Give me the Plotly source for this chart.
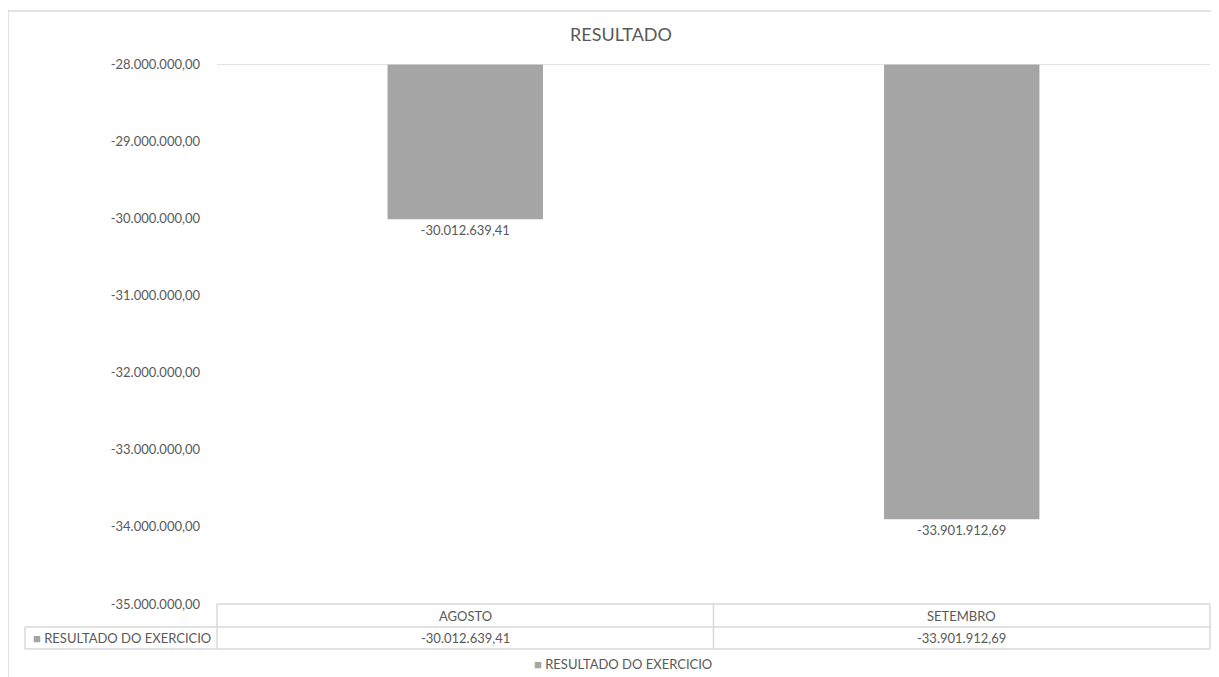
import plotly.graph_objects as go

categories = ["AGOSTO", "SETEMBRO"]
values = [-30012639.41, -33901912.69]
series_name = "RESULTADO DO EXERCICIO"
axis_top = -28000000
axis_bottom = -35000000
tick_vals = [-28000000, -29000000, -30000000, -31000000, -32000000, -33000000, -34000000, -35000000]


def br(v):
    s = f"{abs(v):,.2f}".replace(",", "X").replace(".", ",").replace("X", ".")
    return ("-" if v < 0 else "") + s


FONT = "Lato, Open Sans, Liberation Sans"
TXT = "#595959"
BAR = "#A5A5A5"
GRID = "#D9D9D9"

OFF = 8  # page body margin
W, H = 1219 - 2 * OFF, 677 - OFF
# reference pixel positions of the plot area
PL, PR, PT, PB = 217, 1210, 64, 604
L, R, T, B = PL - OFF, (W + OFF) - PR, PT - OFF, (H + OFF) - PB
pw = W - L - R
ph = H - T - B


def px_x(x):
    return (x - PL) / pw


def px_y(y):
    return (PB - y) / ph


fig = go.Figure()
fig.add_trace(go.Bar(
    x=categories,
    y=[v - axis_top for v in values],
    base=[axis_top] * len(values),
    marker=dict(color=BAR, line=dict(width=0)),
    width=0.313,
    name=series_name,
    text=[br(v) for v in values],
    textposition="outside",
    textfont=dict(color=TXT, size=13, family=FONT),
    cliponaxis=False,
    showlegend=False,
))

fig.update_layout(
    width=W, height=H,
    margin=dict(l=L, r=R, t=T, b=B),
    paper_bgcolor="white",
    plot_bgcolor="white",
    separators=",.",
    font=dict(family=FONT, color=TXT, size=13),
    title=dict(text="RESULTADO", x=px_x(621), xref="paper", xanchor="center",
               y=1 - (35 - OFF) / H, yanchor="middle",
               font=dict(size=18, color=TXT, family=FONT)),
    xaxis=dict(showticklabels=False, showgrid=False, zeroline=False, showline=False,
               range=[-0.5, 1.5], fixedrange=True),
    yaxis=dict(range=[axis_bottom, axis_top], tickvals=tick_vals,
               ticktext=[br(v) for v in tick_vals],
               showgrid=False, zeroline=False, showline=False, ticks="",
               ticklabelstandoff=16,
               tickfont=dict(size=13, color=TXT, family=FONT)),
)

# category axis line at top (value axis crosses there)
fig.add_shape(type="line", xref="paper", yref="y", x0=0, x1=1, y0=axis_top, y1=axis_top,
              line=dict(color=GRID, width=1.5))

# Outer chart border (top and left)
bx, by = px_x(8), px_y(11)
fig.add_shape(type="line", xref="paper", yref="paper", x0=bx, x1=px_x(1230),
              y0=by, y1=by, line=dict(color=GRID, width=1.5))
fig.add_shape(type="line", xref="paper", yref="paper", x0=bx, x1=bx,
              y0=by, y1=px_y(690), line=dict(color=GRID, width=1.5))

# Data table
row_top, row_mid, row_bot = 604, 627, 649
x_left = 25
fig.add_shape(type="line", xref="paper", yref="paper", x0=0, x1=1,
              y0=px_y(row_top), y1=px_y(row_top), line=dict(color=GRID, width=1.5))
for yy in (row_mid, row_bot):
    fig.add_shape(type="line", xref="paper", yref="paper", x0=px_x(x_left), x1=1,
                  y0=px_y(yy), y1=px_y(yy), line=dict(color=GRID, width=1.5))
fig.add_shape(type="line", xref="paper", yref="paper", x0=px_x(x_left), x1=px_x(x_left),
              y0=px_y(row_mid), y1=px_y(row_bot), line=dict(color=GRID, width=1.5))
for i in range(len(categories) + 1):
    xx = i / len(categories)
    fig.add_shape(type="line", xref="paper", yref="paper", x0=xx, x1=xx,
                  y0=px_y(row_top), y1=px_y(row_bot), line=dict(color=GRID, width=1.5))

for c, v in zip(categories, values):
    fig.add_annotation(x=c, xref="x", yref="paper", y=px_y((row_top + row_mid) / 2),
                       text=c, showarrow=False, yanchor="middle",
                       font=dict(size=13, color=TXT, family=FONT))
    fig.add_annotation(x=c, xref="x", yref="paper", y=px_y((row_mid + row_bot) / 2),
                       text=br(v), showarrow=False, yanchor="middle",
                       font=dict(size=13, color=TXT, family=FONT))

fig.add_annotation(x=px_x(31), xref="paper", yref="paper", y=px_y((row_mid + row_bot) / 2),
                   text=f"<span style='color:{BAR}'>■</span> {series_name}", showarrow=False,
                   xanchor="left", yanchor="middle", font=dict(size=13, color=TXT, family=FONT))

# Legend
fig.add_annotation(x=px_x(623), xref="paper", yref="paper", y=px_y(664),
                   text=f"<span style='color:{BAR}'>■</span> {series_name}", showarrow=False,
                   xanchor="center", yanchor="middle", font=dict(size=13, color=TXT, family=FONT))

fig.write_html("out.html")
